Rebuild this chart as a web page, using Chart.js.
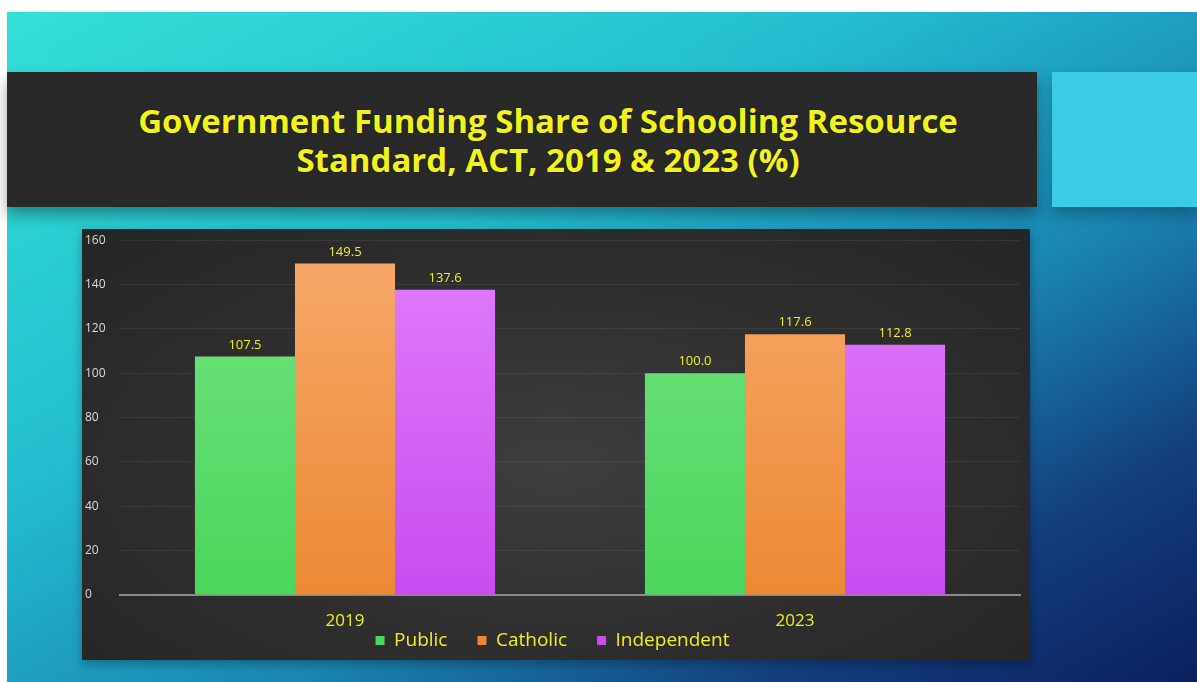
<!DOCTYPE html>
<html lang="en">
  <head>
    <meta charset="UTF-8" />
    <title>Government Funding Share of Schooling Resource Standard, ACT</title>
    <script src="https://cdn.jsdelivr.net/npm/chart.js"></script>
    <style>
      html,
      body {
        margin: 0;
        width: 1197px;
        height: 682px;
        overflow: hidden;
        background: #ffffff;
        font-family: "Open Sans", sans-serif;
      }

      .slide {
        position: absolute;
        left: 7px;
        top: 12px;
        width: 1190px;
        height: 670px;
        background: linear-gradient(
          to bottom right,
          #33e0d6 0%,
          #24bfd0 35%,
          #1a86b4 62%,
          #133f7e 82%,
          #0c1f5d 100%
        );
      }

      .banner {
        position: absolute;
        left: 7px;
        top: 72px;
        width: 1030px;
        height: 135px;
        background: #292929;
        box-shadow: 0 8px 14px rgba(0, 0, 0, 0.35);
        display: flex;
        align-items: center;
        justify-content: center;
      }

      .banner h1 {
        margin: 0;
        margin-left: 52px;
        color: #f2f31c;
        font-size: 33px;
        font-weight: 700;
        line-height: 39px;
        text-align: center;
        text-shadow: 0 0 2px rgba(0, 0, 0, 0.6);
      }

      .side {
        position: absolute;
        left: 1052px;
        top: 72px;
        width: 145px;
        height: 135px;
        background: #3bcbe6;
        box-shadow: 0 8px 14px rgba(0, 0, 0, 0.25);
      }

      .plot {
        position: absolute;
        left: 82px;
        top: 229px;
        width: 948px;
        height: 431px;
        background: radial-gradient(
          ellipse at 50% 55%,
          #3e3e3e 0%,
          #2e2e2e 55%,
          #252525 100%
        );
        box-shadow: 0 4px 10px rgba(0, 0, 0, 0.3);
      }
    </style>
  </head>
  <body>
    <div class="slide"></div>
    <div class="banner">
      <h1>Government Funding Share of Schooling Resource<br />Standard, ACT, 2019 &amp; 2023 (%)</h1>
    </div>
    <div class="side"></div>
    <div class="plot">
      <canvas id="fundingChart" width="948" height="431"></canvas>
    </div>

    <script>
      const years = ["2019", "2023"];
      const publicShare = [107.5, 100.0];
      const catholicShare = [149.5, 117.6];
      const independentShare = [137.6, 112.8];
      const yTicks = [0, 20, 40, 60, 80, 100, 120, 140, 160];

      const yellow = "#eef01e";
      const font = "Open Sans";

      // vertical fill for each bar, lighter at the top
      function barFill(top, bottom) {
        return (ctx) => {
          const area = ctx.chart.chartArea;
          if (!area) return bottom;
          const g = ctx.chart.ctx.createLinearGradient(0, area.top, 0, area.bottom);
          g.addColorStop(0, top);
          g.addColorStop(1, bottom);
          return g;
        };
      }

      // value written above every bar
      const valueLabels = {
        id: "valueLabels",
        afterDatasetsDraw(chart) {
          const c = chart.ctx;
          c.save();
          c.fillStyle = yellow;
          c.font = "13px 'Open Sans', sans-serif";
          c.textAlign = "center";
          c.textBaseline = "bottom";
          chart.data.datasets.forEach((ds, i) => {
            chart.getDatasetMeta(i).data.forEach((bar, j) => {
              c.fillText(ds.data[j].toFixed(1), bar.x, bar.y - 5);
            });
          });
          c.restore();
        },
      };

      new Chart(document.getElementById("fundingChart"), {
        type: "bar",
        data: {
          labels: years,
          datasets: [
            {
              label: "Public",
              data: publicShare,
              backgroundColor: barFill("#73e37f", "#4bd65d"),
            },
            {
              label: "Catholic",
              data: catholicShare,
              backgroundColor: barFill("#f7a96b", "#ec8934"),
            },
            {
              label: "Independent",
              data: independentShare,
              backgroundColor: barFill("#e27efb", "#c84cf0"),
            },
          ],
        },
        options: {
          responsive: false,
          animation: false,
          layout: { padding: { top: 8, left: 3, right: 10, bottom: 0 } },
          datasets: {
            bar: { categoryPercentage: 0.667, barPercentage: 1.0 },
          },
          scales: {
            x: {
              // thin axis box; mirrored labels are not clipped, and a negative
              // padding pushes them down into the band above the legend
              afterFit(scale) {
                scale.height = 6;
              },
              grid: { display: false, drawTicks: false },
              border: { color: "#8a8a8a", width: 2 },
              ticks: {
                color: yellow,
                font: { family: font, size: 17 },
                mirror: true,
                padding: -36,
              },
            },
            y: {
              min: 0,
              max: 160,
              afterBuildTicks(scale) {
                scale.ticks = yTicks.map((v) => ({ value: v }));
              },
              afterFit(scale) {
                scale.width = 35;
              },
              border: { display: false },
              grid: { color: "rgba(255,255,255,0.07)", drawTicks: false },
              ticks: {
                color: "#dcdcdc",
                font: { family: font, size: 12 },
                crossAlign: "far",
                padding: 4,
              },
            },
          },
          plugins: {
            legend: {
              position: "bottom",
              labels: {
                color: yellow,
                font: { family: font, size: 19 },
                boxWidth: 9,
                boxHeight: 9,
                padding: 30,
              },
            },
            tooltip: { enabled: false },
          },
        },
        plugins: [valueLabels],
      });
    </script>
  </body>
</html>
